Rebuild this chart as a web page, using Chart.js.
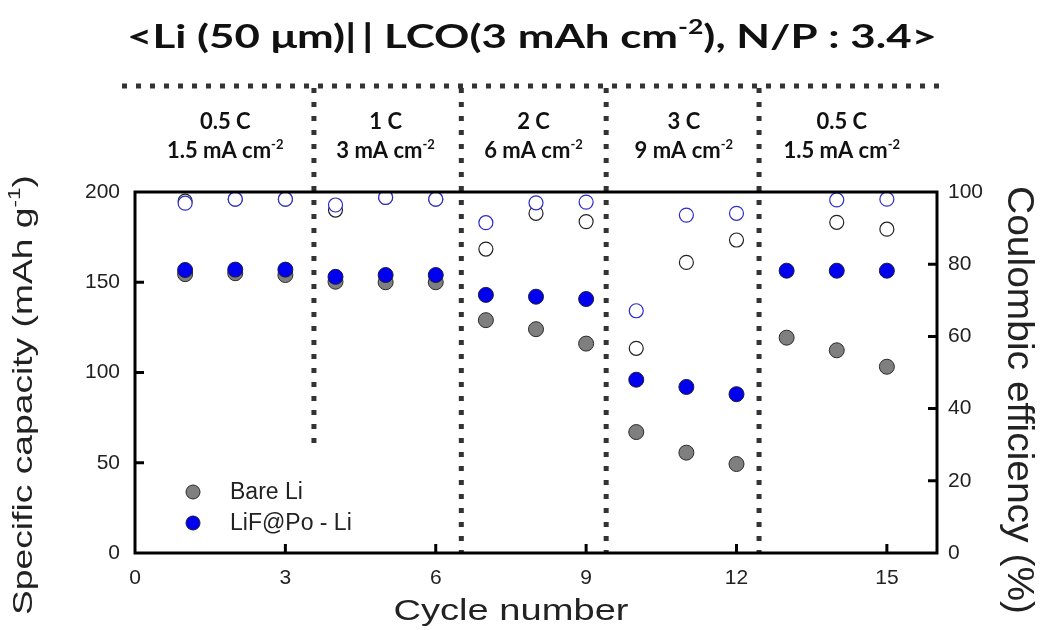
<!DOCTYPE html>
<html lang="en">
  <head>
    <meta charset="UTF-8" />
    <title>Rate capability: Bare Li vs LiF@Po - Li</title>
    <style>
      body {
        margin: 0;
        padding: 0;
        background: #fff;
      }
      #wrap {
        width: 1046px;
        height: 630px;
      }
    </style>
  </head>
  <body>
    <div id="wrap">
      <canvas id="chart" width="1046" height="630"></canvas>
    </div>
    <script src="https://cdn.jsdelivr.net/npm/chart.js"></script>
    <script>
      // values
      const cycles = [1, 2, 3, 4, 5, 6, 7, 8, 9, 10, 11, 12, 13, 14, 15];
      const bareCapacity = [154.5, 155, 154, 150.3, 150, 150, 129, 124, 116, 67, 55.6, 49.3, 119.3, 112.3, 103.2];
      const lifCapacity = [156.8, 157, 157, 153, 154, 154, 143, 142, 140.7, 96, 92, 88, 156.4, 156.4, 156.4];
      const bareCE = [97.5, 98, 98, 95, 98.5, 98, 84.2, 94.1, 91.8, 56.7, 80.5, 86.7, null, 91.6, 89.7];
      const lifCE = [96.9, 98, 98, 96.4, 98.5, 98, 91.5, 97, 97.2, 67.1, 93.6, 94.1, null, 97.8, 98];

      const seriesNames = ["Bare Li", "LiF@Po - Li"];
      const xTicks = [0, 3, 6, 9, 12, 15];
      const capTicks = [0, 50, 100, 150, 200];
      const ceTicks = [0, 20, 40, 60, 80, 100];

      // rate steps: dividers between them (cycle units), where the first one stops (capacity units)
      const dividers = [3.57, 6.51, 9.4, 12.45];
      const dividerEnds = [58, 0, 0, 0];
      const stepCenters = [1.8, 5.0, 7.95, 10.95, 14.1];
      const stepRates = ["0.5 C", "1 C", "2 C", "3 C", "0.5 C"];
      const stepCurrents = ["1.5", "3", "6", "9", "1.5"];

      const pts = (ys) => cycles.map((c, i) => ({ x: c, y: ys[i] }));

      // text with optional superscript parts, stretched to a target length if given
      function drawRich(ctx, parts, cx, cy, size, weight, family, color, targetLen, angle) {
        const base = weight + " " + size + "px " + family;
        const sup = weight + " " + Math.round(size * 0.6) + "px " + family;
        ctx.save();
        ctx.fillStyle = color;
        ctx.textAlign = "left";
        ctx.textBaseline = "alphabetic";
        let w = 0;
        parts.forEach((p) => {
          ctx.font = p[1] ? sup : base;
          w += ctx.measureText(p[0]).width;
        });
        ctx.translate(cx, cy);
        ctx.rotate(angle || 0);
        if (targetLen) ctx.scale(targetLen / w, 1);
        let xx = -w / 2;
        const by = size * 0.36;
        parts.forEach((p) => {
          ctx.font = p[1] ? sup : base;
          ctx.fillText(p[0], xx, p[1] ? by - size * 0.42 : by);
          xx += ctx.measureText(p[0]).width;
        });
        ctx.restore();
      }

      function dotted(ctx, x1, y1, x2, y2) {
        ctx.save();
        ctx.strokeStyle = "#333";
        ctx.lineWidth = 5;
        ctx.setLineDash([5, 9]);
        ctx.beginPath();
        ctx.moveTo(x1, y1);
        ctx.lineTo(x2, y2);
        ctx.stroke();
        ctx.restore();
      }

      const overlay = {
        id: "overlay",
        beforeDatasetsDraw(chart) {
          const { ctx, scales } = chart;
          const x = scales.x, y = scales.y;
          dotted(ctx, 122, 86, 946, 86);
          dividers.forEach((d, i) => {
            const px = x.getPixelForValue(d);
            dotted(ctx, px, 88, px, y.getPixelForValue(dividerEnds[i]));
          });
          stepCenters.forEach((c, i) => {
            const px = x.getPixelForValue(c);
            drawRich(ctx, [[stepRates[i], false]], px, 121, 22, "bold", "Lato", "#111");
            drawRich(ctx, [[stepCurrents[i] + " mA cm", false], ["-2", true]], px, 150, 22, "bold", "Lato", "#111");
          });
        },
        afterDatasetsDraw(chart) {
          const { ctx, chartArea: a, scales } = chart;
          ctx.save();
          ctx.strokeStyle = "#000";
          ctx.lineWidth = 3;
          ctx.strokeRect(a.left, a.top, a.right - a.left, a.bottom - a.top);
          ctx.beginPath();
          const tl = 9;
          xTicks.forEach((v) => {
            if (v === 0) return;
            const px = scales.x.getPixelForValue(v);
            ctx.moveTo(px, a.bottom);
            ctx.lineTo(px, a.bottom - tl);
          });
          capTicks.forEach((v) => {
            if (v === 0 || v === 200) return;
            const py = scales.y.getPixelForValue(v);
            ctx.moveTo(a.left, py);
            ctx.lineTo(a.left + tl, py);
          });
          ceTicks.forEach((v) => {
            if (v === 0 || v === 100) return;
            const py = scales.y2.getPixelForValue(v);
            ctx.moveTo(a.right, py);
            ctx.lineTo(a.right - tl, py);
          });
          ctx.stroke();
          ctx.restore();

          // legend
          const ds = chart.data.datasets;
          [1, 0].forEach((di, row) => {
            const ly = 492 + row * 31;
            ctx.save();
            ctx.beginPath();
            ctx.arc(193, ly, 7, 0, Math.PI * 2);
            ctx.fillStyle = ds[di].pointBackgroundColor;
            ctx.fill();
            ctx.lineWidth = 1;
            ctx.strokeStyle = ds[di].pointBorderColor;
            ctx.stroke();
            ctx.font = "23px 'Liberation Sans', Arial, sans-serif";
            ctx.fillStyle = "#222";
            ctx.textBaseline = "middle";
            ctx.fillText(ds[di].label, 230, ly + 1);
            ctx.restore();
          });

          // titles
          drawRich(ctx, [["<Li (50 \u03bcm)|\u2009| LCO(3 mAh cm", false], ["-2", true], ["), N/P : 3.4>", false]],
            532, 36, 33, "bold", "Lato", "#111", 810);
          drawRich(ctx, [["Specific capacity (mAh g", false], ["-1", true], [")", false]],
            22, 395, 28, "normal", "'Liberation Sans'", "#222", 440, -Math.PI / 2);
          drawRich(ctx, [["Coulombic efficiency (%)", false]],
            1021, 400, 36, "normal", "'Liberation Sans'", "#222", 428, Math.PI / 2);
          drawRich(ctx, [["Cycle number", false]],
            511, 609, 30, "normal", "'Liberation Sans'", "#222", 235);
        },
      };

      const tickFont = { family: "'Liberation Sans', Arial, sans-serif", size: 21 };

      new Chart(document.getElementById("chart"), {
        type: "scatter",
        data: {
          datasets: [
            {
              label: seriesNames[1],
              data: pts(lifCapacity),
              yAxisID: "y",
              pointRadius: 7.5,
              pointBackgroundColor: "#0000ee",
              pointBorderColor: "#1a1a40",
              pointBorderWidth: 1,
            },
            {
              label: seriesNames[0],
              data: pts(bareCapacity),
              yAxisID: "y",
              pointRadius: 7.5,
              pointBackgroundColor: "#7f7f7f",
              pointBorderColor: "#2a2a2a",
              pointBorderWidth: 1,
            },
            {
              label: seriesNames[1] + " CE",
              data: pts(lifCE),
              yAxisID: "y2",
              pointRadius: 7,
              pointBackgroundColor: "#ffffff",
              pointBorderColor: "#2b2bd0",
              pointBorderWidth: 1.2,
            },
            {
              label: seriesNames[0] + " CE",
              data: pts(bareCE),
              yAxisID: "y2",
              pointRadius: 7,
              pointBackgroundColor: "#ffffff",
              pointBorderColor: "#222222",
              pointBorderWidth: 1.2,
            },
          ],
        },
        options: {
          responsive: false,
          animation: false,
          events: [],
          layout: { padding: { top: 192, left: 0, right: 0, bottom: 0 } },
          plugins: {
            legend: { display: false },
            tooltip: { enabled: false },
            title: { display: false },
          },
          scales: {
            x: {
              type: "linear",
              min: 0,
              max: 16,
              grid: { display: false, drawTicks: false },
              border: { display: false },
              afterBuildTicks: (s) => { s.ticks = xTicks.map((v) => ({ value: v })); },
              afterFit: (s) => { s.height = 77; },
              ticks: { font: tickFont, color: "#222", padding: 13, maxRotation: 0 },
            },
            y: {
              position: "left",
              min: 0,
              max: 200,
              grid: { display: false, drawTicks: false },
              border: { display: false },
              afterBuildTicks: (s) => { s.ticks = capTicks.map((v) => ({ value: v })); },
              afterFit: (s) => { s.width = 135; },
              ticks: { font: tickFont, color: "#222", padding: 15 },
            },
            y2: {
              position: "right",
              min: 0,
              max: 100,
              grid: { display: false, drawTicks: false },
              border: { display: false },
              afterBuildTicks: (s) => { s.ticks = ceTicks.map((v) => ({ value: v })); },
              afterFit: (s) => { s.width = 109; },
              ticks: { font: tickFont, color: "#222", padding: 11 },
            },
          },
        },
        plugins: [overlay],
      });
    </script>
  </body>
</html>
